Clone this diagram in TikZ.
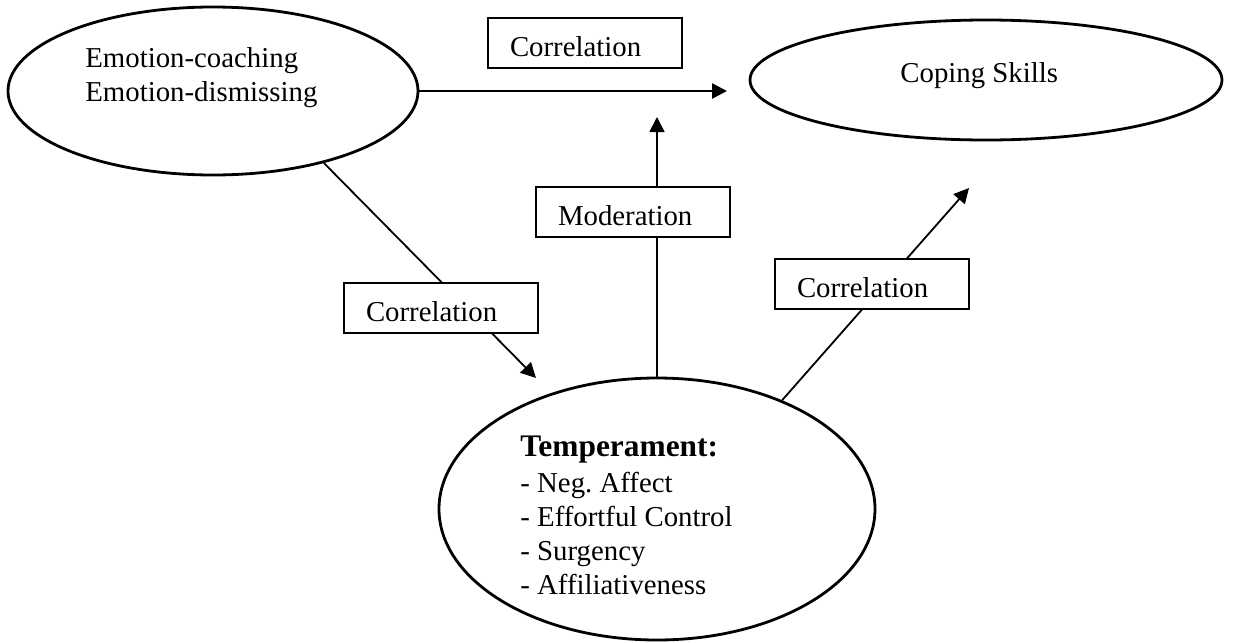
\documentclass[tikz,border=0pt]{standalone}
\usepackage{fontspec}
\setmainfont{Liberation Serif}
\usetikzlibrary{shapes.geometric, arrows.meta, positioning}

\begin{document}
\begin{tikzpicture}[
    x=0.5pt, y=-0.5pt,
    font=\fontsize{14.4}{17}\selectfont,
    oval/.style={ellipse, draw, line width=1.4pt, inner sep=0pt},
    box/.style={rectangle, draw, fill=white, line width=1.2pt, minimum width=97pt, minimum height=25pt, text width=75pt, inner xsep=11pt, inner ysep=0pt, text height=13pt, text depth=0pt, align=left},
    txt/.style={inner sep=0pt, align=left, anchor=north west},
    arrow/.style={-{Triangle[length=7.5pt, width=7.5pt]}, line width=0.9pt}
]
    \useasboundingbox (0,0) rectangle (1233,643);

    \node[oval, minimum width=205pt, minimum height=84pt] (parenting) at (213,91) {};
    \node[oval, minimum width=236pt, minimum height=60pt] (coping) at (986,80) {};
    \node[oval, minimum width=218pt, minimum height=131pt] (temper) at (657,509) {};

    \node[txt] (parentingtext) at (85,47) {Emotion-coaching\\Emotion-dismissing};
    \node[anchor=base west, inner sep=0pt] (copingtext) at (900,82) {Coping Skills};
    \node[txt] (tempertext) at (520,436) {{\fontsize{15.7}{19}\selectfont\bfseries Temperament:}\\[1pt]
        - Neg.\ Affect\\- Effortful Control\\- Surgency\\- Affiliativeness};

    \coordinate (copingtip) at (727,91);
    \coordinate (modtip) at (657,117);
    \coordinate (tempertip) at (536,378);
    \coordinate (skilltip) at (969,188);

    \draw[arrow, line width=1.3pt] (parenting.east) -- (copingtip);
    \draw[arrow] (temper.north) -- (modtip);
    \draw[arrow] (parenting.-33.4) -- (tempertip);
    \draw[arrow] (temper.41.5) -- (skilltip);

    \node[box] (corrtop) at (585,43) {Correlation};
    \node[box, minimum width=96pt] (moder) at (633,212) {Moderation};
    \node[box] (corrleft) at (441,308) {Correlation};
    \node[box] (corrright) at (872,284) {Correlation};
\end{tikzpicture}
\end{document}
